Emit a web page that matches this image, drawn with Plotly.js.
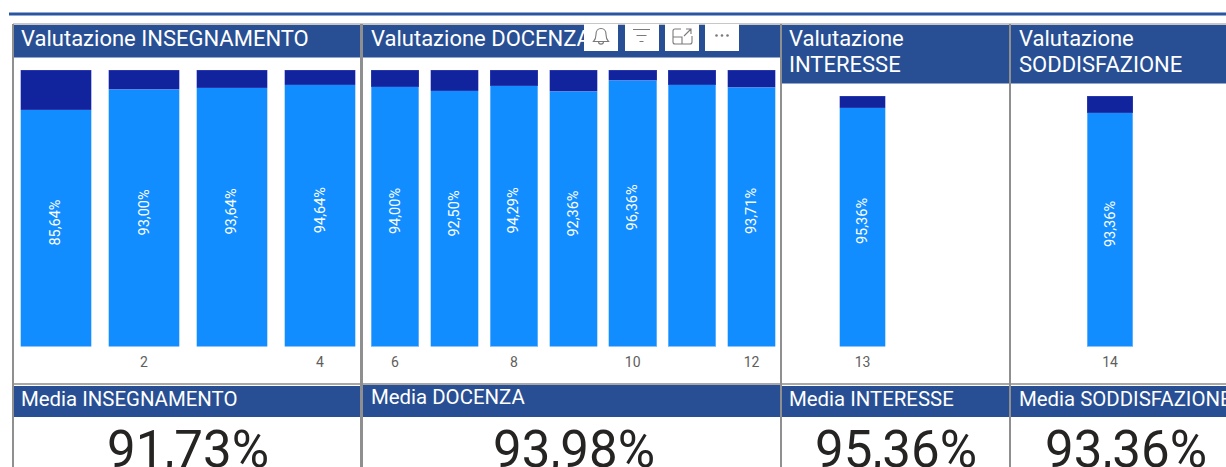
<!DOCTYPE html>
<html><head><meta charset="utf-8">
<script src="https://cdn.plot.ly/plotly-3.0.1.min.js"></script>
<style>html,body{margin:0;padding:0;background:#fff;overflow:hidden}
#wrap{position:relative;width:1226px;height:467px}
#chart{position:absolute;left:0;top:0;width:1226px;height:467px}
#tools{position:absolute;left:0;top:0;width:1226px;height:467px;pointer-events:none}
</style></head><body>
<div id="wrap"><div id="chart"></div>
<svg id="tools" viewBox="0 0 1226 467">
<g fill="#fff"><rect x="584" y="24" width="34" height="27"/><rect x="625" y="24" width="34" height="27"/><rect x="665" y="24" width="34" height="27"/><rect x="705" y="24" width="34" height="27"/></g>
<g fill="none" stroke="#7a7a7a" stroke-width="1.1">
<path d="M593.5 41.5h15c-2-2-2.5-3.5-2.5-7c0-3.500-2-6-5-6s-5 2.500-5 6c0 3.500-.5 5-2.500 7zM598.500 41.500c0 3.500 5 3.500 5 0"/>
<path d="M633 29.500h17M636.500 35.500h10M639.500 41.500h4"/>
<path d="M681 29h-6a2 2 0 0 0-2 2v11a2 2 0 0 0 2 2h15a2 2 0 0 0 2-2v-6M673 37h9v7M684 36l7-7M686 29h5v5"/>
</g>
<g fill="#7a7a7a"><circle cx="716.500" cy="35.500" r="1.300"/><circle cx="722" cy="35.500" r="1.300"/><circle cx="727.500" cy="35.500" r="1.300"/></g>
</svg></div>
<script>
var insegnamentoCat = [1, 2, 3, 4];
var insegnamentoPos = [85.64, 93.00, 93.64, 94.64];
var insegnamentoNeg = [14.36, 7.00, 6.36, 5.36];
var docenzaCat = [6, 7, 8, 9, 10, 11, 12];
var docenzaPos = [94.00, 92.50, 94.29, 92.36, 96.36, 94.64, 93.71];
var docenzaNeg = [6.00, 7.50, 5.71, 7.64, 3.64, 5.36, 6.29];
var docenzaUnlabelled = [11];
var interesseCat = [13];
var interessePos = [95.36];
var interesseNeg = [4.64];
var soddisfazioneCat = [14];
var soddisfazionePos = [93.36];
var soddisfazioneNeg = [6.64];
var W = 1226, H = 467;
var FONT = 'Roboto, sans-serif';
var HDR = '#284f94', BRIGHT = '#118dff', DARK = '#12239e', EDGE = '#8f8f8f';
function px(x){return x/W} function py(y){return 1-y/H}

var panels = [
 {cat:insegnamentoCat,pos:insegnamentoPos,neg:insegnamentoNeg,ticks:[2,4],hide:[],dom:[12,364],top:70,range:[0.5,4.5],width:0.8},
 {cat:docenzaCat,pos:docenzaPos,neg:docenzaNeg,ticks:[6,8,10,12],hide:docenzaUnlabelled,dom:[365.3,781.3],top:70,range:[5.5,12.5],width:0.8},
 {cat:interesseCat,pos:interessePos,neg:interesseNeg,ticks:[13],hide:[],dom:[782,943],top:96,range:[12.5,13.5],width:0.283},
 {cat:soddisfazioneCat,pos:soddisfazionePos,neg:soddisfazioneNeg,ticks:[14],hide:[],dom:[1011,1209],top:96,range:[13.5,14.5],width:0.228}
];
var traces = [], layout = {
 width:W,height:H,margin:{l:0,r:0,t:0,b:0,pad:0},paper_bgcolor:'#fff',plot_bgcolor:'rgba(0,0,0,0)',
 barmode:'stack',showlegend:false,separators:',.',font:{family:FONT},shapes:[],annotations:[]
};
panels.forEach(function(p,i){
 var n = i===0?'':String(i+1);
 traces.push({type:'bar',x:p.cat,y:p.pos,width:p.width,marker:{color:BRIGHT,line:{color:'#8cc6ff',width:0.6}},xaxis:'x'+n,yaxis:'y'+n,textposition:'none',hoverinfo:'none'});
 traces.push({type:'bar',x:p.cat,y:p.neg,width:p.width,marker:{color:DARK,line:{color:'#4a55c0',width:0.4}},xaxis:'x'+n,yaxis:'y'+n,textposition:'none',hoverinfo:'none'});
 layout['xaxis'+n] = {domain:[px(p.dom[0]),px(p.dom[1])],range:p.range,anchor:'y'+n,tickmode:'array',tickvals:p.ticks,
   ticktext:p.ticks.map(String),ticklen:3,tickcolor:'rgba(0,0,0,0)',showline:false,showgrid:false,zeroline:false,
   tickfont:{size:14,color:'#605e5c',family:FONT},fixedrange:true,tickangle:0};
 layout['yaxis'+n] = {domain:[py(346.5),py(p.top)],range:[0,100],anchor:'x'+n,visible:false,fixedrange:true};
 p.cat.forEach(function(c,k){
   if (p.hide.indexOf(c)>=0) return;
   layout.annotations.push({xref:'x'+n,yref:'y'+n,x:c,y:p.pos[k]/2,yshift:5.5,text:p.pos[k].toFixed(2).replace('.',',')+'%',
     textangle:-90,showarrow:false,font:{family:FONT,size:14.5,color:'#fff'},borderpad:0,xanchor:'center',yanchor:'middle'});
 });
});
function rect(x0,y0,x1,y1,c){layout.shapes.push({type:'rect',xref:'paper',yref:'paper',x0:px(x0),x1:px(x1),y0:py(y0),y1:py(y1),fillcolor:c,line:{width:0},layer:'below'})}
function line(x0,y0,x1,y1,c,w){layout.shapes.push({type:'line',xref:'paper',yref:'paper',x0:px(x0),x1:px(x1),y0:py(y0),y1:py(y1),line:{color:c,width:w},layer:'above'})}
function label(t,x,y,size,color,xa){layout.annotations.push({xref:'paper',yref:'paper',x:px(x),y:py(y),text:t,showarrow:false,xanchor:xa||'left',yanchor:'middle',align:'left',
 font:{family:FONT,size:size,color:color},borderpad:0})}

rect(9,12.5,W,15.5,'#2a55a0');
rect(13,25,361,57.5,HDR); rect(362,25,781,57.5,HDR); rect(782,25,1010,83.5,HDR); rect(1011,25,W,83.5,HDR);
rect(13,386,361,417,HDR); rect(362,384,781,417,HDR); rect(782,386,1010,417,HDR); rect(1011,386,W,417,HDR);
line(13,24,W,24,'#b5b5b5',1.5);
line(13,384,W,384,'#a8a8a8',2);
[13,361.500,781,1010].forEach(function(x){line(x,24,x,467,EDGE,x===361.500?3:2)});

label('Valutazione INSEGNAMENTO',20,39,22,'#fff');
label('Valutazione DOCENZA',370,39,22,'#fff');
label('Valutazione',788,39,22,'#fff');
label('INTERESSE',788,64,22,'#fff');
label('Valutazione',1018,39,22,'#fff');
label('SODDISFAZIONE',1018,64,22,'#fff');
label('Media INSEGNAMENTO',20,399,20.4,'#fff');
label('Media DOCENZA',370,397,20.4,'#fff');
label('Media INTERESSE',788,399,20.4,'#fff');
label('Media SODDISFAZIONE',1018,399,20.4,'#fff');
label('91,73%',188,449,51,'#252423','center');
label('93,98%',574,449,51,'#252423','center');
label('95,36%',896,449,51,'#252423','center');
label('93,36%',1126,449,51,'#252423','center');

Plotly.newPlot('chart',traces,layout,{displayModeBar:false,responsive:false,staticPlot:true});
</script></body></html>
